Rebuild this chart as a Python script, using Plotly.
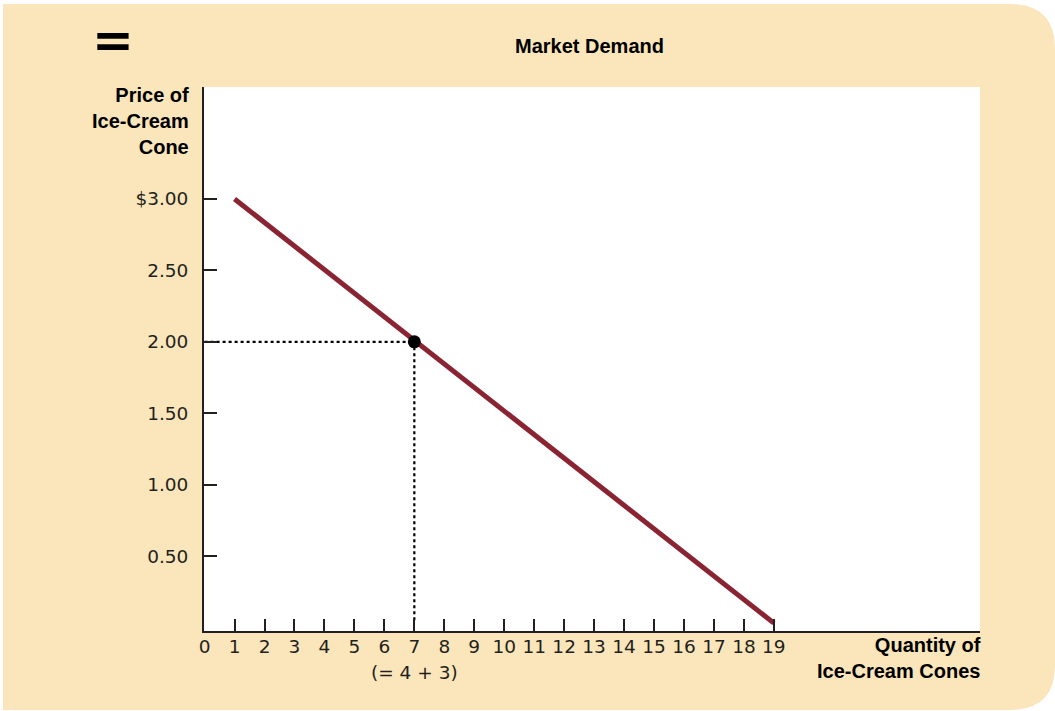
import plotly.graph_objects as go

# ---- data ----
demand_q = [1, 19]
demand_p = [3.00, 0.03]
point_q = [7]
point_p = [2.00]
x_tickvals = list(range(0, 20))
x_ticktext = [str(v) for v in x_tickvals]
y_tickvals = [0.5, 1.0, 1.5, 2.0, 2.5, 3.0]
y_ticktext = ["0.50", "1.00", "1.50", "2.00", "2.50", "$3.00"]

W, H = 1055, 711
L, R, T, B = 204, 75, 87, 80
PW, PH = W - L - R, H - T - B

def px(x):
    return (x - L) / PW

def py(y):
    return (H - B - y) / PH

BEIGE = "#FAE6BA"
INK = "#231F20"
MAROON = "#8A2433"

fig = go.Figure()

# dotted guides
fig.add_trace(go.Scatter(x=[0, point_q[0]], y=[point_p[0], point_p[0]], mode="lines",
                         line=dict(color="black", width=2.2, dash="dot"), hoverinfo="skip"))
fig.add_trace(go.Scatter(x=[point_q[0], point_q[0]], y=[0.05, point_p[0]], mode="lines",
                         line=dict(color="black", width=2.2, dash="dot"), hoverinfo="skip"))
# demand line
fig.add_trace(go.Scatter(x=demand_q, y=demand_p, mode="lines",
                         line=dict(color=MAROON, width=5)))
# point
fig.add_trace(go.Scatter(x=point_q, y=point_p, mode="markers",
                         marker=dict(color="black", size=13)))

# beige background with rounded right corners
r = 45
x0, y0, x1, y1 = 3, 4, W, 710
path = (f"M {px(x0)},{py(y0)} L {px(x1 - r)},{py(y0)} Q {px(x1)},{py(y0)} {px(x1)},{py(y0 + r)} "
        f"L {px(x1)},{py(y1 - r)} Q {px(x1)},{py(y1)} {px(x1 - r)},{py(y1)} "
        f"L {px(x0)},{py(y1)} Z")
shapes = [
    dict(type="path", path=path, xref="paper", yref="paper", fillcolor=BEIGE,
         line=dict(width=0), layer="below"),
    dict(type="rect", x0=0, x1=1, y0=0, y1=1, xref="paper", yref="paper",
         fillcolor="white", line=dict(width=0), layer="below"),
]

bold = dict(family="Liberation Sans", size=20, color="black")
reg = dict(family="DejaVu Sans", size=18.5, color=INK)

annotations = [
    dict(text="<b>Market Demand</b>", x=px(589), y=py(46), xref="paper", yref="paper",
         showarrow=False, font=bold, xanchor="center", yanchor="middle"),
    dict(text="<b>=</b>", x=px(113), y=py(40), xref="paper", yref="paper",
         showarrow=False, font=dict(family="DejaVu Sans", size=50, color="black"),
         xanchor="center", yanchor="middle"),
    dict(text="<b>Price of<br>Ice-Cream<br>Cone</b>", x=px(191), y=py(121), xref="paper", yref="paper",
         showarrow=False, font=bold, xanchor="right", yanchor="middle", align="right"),
    dict(text="<b>Quantity of<br>Ice-Cream Cones</b>", x=px(983), y=py(658), xref="paper", yref="paper",
         showarrow=False, font=bold, xanchor="right", yanchor="middle", align="right"),
    dict(text="(= 4 + 3)", x=point_q[0], y=py(672), xref="x", yref="paper",
         showarrow=False, font=reg, xanchor="center", yanchor="middle"),
]

fig.update_layout(
    width=W, height=H,
    margin=dict(l=L, r=R, t=T, b=B),
    paper_bgcolor="white", plot_bgcolor="white",
    showlegend=False,
    shapes=shapes,
    annotations=annotations,
    xaxis=dict(range=[-0.02, 25.88], tickvals=x_tickvals, ticktext=x_ticktext,
               ticks="inside", ticklen=12, tickwidth=1.5, tickcolor=INK,
               showline=True, linecolor=INK, linewidth=1.8, showgrid=False, zeroline=False,
               tickfont=reg, ticklabelstandoff=-2, fixedrange=True),
    yaxis=dict(range=[-0.025, 3.784], tickvals=y_tickvals, ticktext=y_ticktext,
               ticks="inside", ticklen=13, tickwidth=1.5, tickcolor=INK,
               showline=True, linecolor=INK, linewidth=1.8, showgrid=False, zeroline=False,
               tickfont=reg, ticklabelstandoff=10, fixedrange=True),
)

fig.write_html("out.html", config={"displayModeBar": False},
               post_script="document.body.style.margin='0';")
